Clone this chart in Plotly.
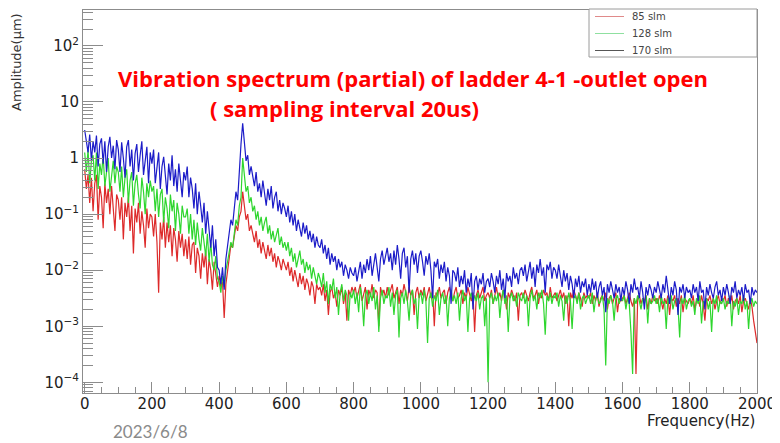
import numpy as np
import plotly.graph_objects as go

# Frequency bins (Hz), 5 Hz spacing, 0..2000
freq_hz = list(range(0, 2001, 5))

# log10 of amplitude (um), rows of 100 Hz (20 bins)
log_amp_85 = [
    -0.2, -0.55, -0.3, -0.8, -0.35, -0.95, -0.45, -0.3, -1.1, -0.5, -0.7, -1.25, -0.45, -0.8, -0.55, -1.0, -0.5, -0.85, -1.3, -0.65,
    -0.75, -1.1, -0.7, -1.45, -0.8, -1.05, -0.7, -1.3, -0.85, -1.7, -0.9, -1.15, -0.8, -1.35, -0.95, -1.2, -1.6, -0.9, -1.25, -1.0,
    -1.05, -1.4, -1.0, -1.5, -2.4, -1.15, -1.45, -1.05, -1.6, -1.15, -1.5, -1.2, -1.75, -1.25, -1.45, -1.85, -1.3, -1.6, -1.35, -1.75,
    -1.45, -1.8, -1.4, -1.9, -1.55, -1.5, -2.05, -1.6, -1.75, -2.15, -1.7, -1.95, -1.65, -2.25, -1.8, -2.0, -2.35, -1.85, -2.1, -2.3,
    -2.1, -2.3, -2.2, -2.85, -2.25, -2.0, -1.7, -1.55, -1.6, -1.35, -1.2, -1.3, -1.05, -0.95, -0.6, -0.85, -1.1, -1.0, -1.3, -1.2,
    -1.35, -1.5, -1.3, -1.6, -1.45, -1.7, -1.5, -1.65, -1.8, -1.55, -1.75, -1.6, -1.85, -1.7, -1.95, -1.75, -1.85, -2.0, -1.8, -1.9,
    -2.0, -1.85, -2.1, -1.95, -2.2, -2.0, -2.15, -2.3, -2.05, -2.25, -2.1, -2.35, -2.15, -2.25, -2.45, -2.2, -2.3, -2.6, -2.25, -2.35,
    -2.3, -2.45, -2.25, -2.55, -2.35, -2.8, -2.4, -2.3, -2.5, -2.4, -2.65, -2.35, -2.45, -2.3, -2.6, -2.4, -2.9, -2.35, -2.45, -2.3,
    -2.4, -2.3, -2.5, -2.35, -2.25, -2.55, -2.4, -2.3, -2.7, -2.35, -2.45, -2.25, -2.5, -2.35, -2.4, -3.0, -2.3, -2.45, -2.35, -2.5,
    -2.3, -2.45, -2.35, -2.25, -2.5, -2.4, -2.3, -2.6, -2.35, -2.45, -2.25, -2.4, -2.55, -2.3, -2.45, -2.35, -2.8, -2.4, -2.3, -2.5,
    -2.35, -2.45, -2.3, -2.55, -2.4, -2.3, -2.5, -2.35, -3.0, -2.4, -2.45, -2.3, -2.5, -2.4, -2.35, -2.6, -2.4, -2.3, -2.45, -2.55,
    -2.4, -2.3, -2.5, -2.45, -2.35, -2.6, -2.4, -2.5, -2.3, -2.45, -2.55, -2.4, -3.1, -2.45, -2.35, -2.5, -2.4, -2.3, -2.55, -2.45,
    -2.4, -2.5, -2.35, -2.6, -2.45, -2.3, -2.5, -2.4, -2.55, -2.35, -2.45, -2.7, -2.4, -2.5, -2.35, -2.45, -2.55, -2.4, -2.9, -2.45,
    -2.4, -2.5, -2.35, -2.45, -2.55, -2.4, -2.3, -2.5, -2.45, -2.35, -2.6, -2.4, -2.5, -2.35, -2.45, -2.4, -2.55, -2.3, -2.5, -2.45,
    -2.4, -2.55, -2.45, -2.35, -2.5, -2.4, -2.6, -2.45, -3.0, -2.4, -2.5, -2.35, -2.45, -2.55, -2.4, -2.5, -2.65, -2.4, -2.5, -2.45,
    -2.5, -2.4, -2.6, -2.45, -2.55, -2.4, -2.65, -2.5, -2.45, -2.55, -2.4, -2.7, -2.5, -2.45, -2.6, -2.5, -2.4, -2.75, -2.5, -2.55,
    -2.5, -2.45, -2.6, -2.5, -2.4, -2.55, -2.65, -2.5, -3.85, -2.5, -2.45, -2.6, -2.5, -2.55, -2.45, -2.7, -2.5, -2.6, -2.45, -2.55,
    -2.5, -2.6, -2.45, -2.55, -2.7, -2.5, -2.6, -2.45, -2.8, -2.5, -2.55, -2.45, -2.65, -2.5, -2.6, -2.45, -2.75, -2.5, -2.55, -2.6,
    -2.5, -2.6, -2.45, -2.7, -2.55, -2.5, -2.65, -2.45, -2.6, -2.9, -2.5, -2.55, -2.45, -2.6, -2.5, -2.7, -2.55, -2.45, -2.6, -2.5,
    -2.55, -2.45, -2.65, -2.5, -2.6, -2.45, -2.7, -2.55, -2.5, -2.6, -2.45, -2.75, -2.55, -2.5, -2.6, -2.7, -2.5, -2.65, -2.9, -3.1,
    -3.3,
]

log_amp_128 = [
    0.1, -0.25, 0.15, -0.45, -0.05, 0.05, -0.4, 0.1, -0.55, -0.1, -0.3, 0.05, -0.5, -0.2, 0.0, -0.6, -0.25, -0.05, -0.45, -0.15,
    -0.25, -0.6, -0.15, -0.7, -0.35, -0.2, -0.8, -0.4, -0.25, -0.85, -0.45, -0.3, -0.65, -0.9, -0.35, -0.6, -1.0, -0.45, -0.7, -0.4,
    -0.6, -0.5, -0.95, -0.55, -1.05, -0.65, -0.55, -1.15, -0.7, -0.9, -1.25, -0.65, -0.95, -0.75, -1.3, -0.8, -1.0, -1.35, -0.85, -1.05,
    -1.05, -0.9, -1.35, -1.0, -1.45, -1.1, -1.55, -1.15, -1.45, -1.65, -1.25, -1.55, -1.75, -1.35, -1.85, -1.5, -1.9, -2.0, -1.75, -2.15,
    -2.2, -2.4, -2.1, -2.3, -2.0, -1.85, -1.7, -1.5, -1.6, -1.3, -1.1, -1.2, -0.85, -0.7, 0.0, -0.3, -0.6, -0.5, -0.8, -0.7,
    -0.95, -0.85, -1.1, -0.95, -1.2, -1.05, -1.3, -1.15, -1.05, -1.35, -1.2, -1.45, -1.3, -1.5, -1.35, -1.25, -1.55, -1.4, -1.6, -1.5,
    -1.65, -1.5, -1.75, -1.6, -1.85, -1.7, -1.95, -1.8, -1.65, -1.9, -1.8, -2.05, -1.85, -2.0, -1.9, -2.15, -1.95, -2.1, -2.25, -2.05,
    -2.15, -2.3, -2.05, -2.4, -2.2, -2.6, -2.25, -2.35, -2.15, -2.5, -2.3, -2.8, -2.4, -2.25, -2.55, -2.35, -2.45, -2.9, -2.4, -2.5,
    -2.35, -2.6, -2.4, -2.75, -2.3, -2.5, -3.0, -2.45, -2.35, -2.6, -2.4, -2.55, -2.3, -2.7, -2.45, -3.1, -2.5, -2.35, -2.6, -2.45,
    -2.5, -2.3, -2.65, -2.4, -2.8, -2.45, -2.35, -3.2, -2.5, -2.4, -2.6, -2.35, -2.55, -2.9, -2.45, -2.35, -2.6, -2.5, -3.05, -2.45,
    -2.4, -2.6, -2.35, -2.55, -3.3, -2.5, -2.4, -2.65, -2.45, -2.55, -2.35, -2.8, -2.5, -2.4, -2.6, -2.45, -3.0, -2.5, -2.35, -2.55,
    -2.45, -2.6, -2.4, -2.9, -2.5, -2.35, -2.55, -2.45, -3.1, -2.5, -2.4, -2.6, -2.45, -2.55, -2.4, -2.7, -2.5, -2.45, -3.0, -2.5,
    -4.0, -2.5, -2.4, -2.6, -2.45, -2.55, -2.4, -2.85, -2.5, -2.35, -2.6, -2.45, -3.1, -2.5, -2.4, -2.55, -2.45, -2.65, -2.4, -2.5,
    -2.55, -2.4, -2.6, -2.45, -3.0, -2.5, -2.35, -2.55, -2.45, -2.7, -2.4, -2.5, -2.35, -2.6, -3.15, -2.45, -2.55, -2.4, -2.6, -2.45,
    -2.5, -2.4, -2.65, -2.45, -2.55, -2.9, -2.45, -2.6, -2.4, -2.55, -3.05, -2.5, -2.45, -2.6, -2.4, -2.7, -2.5, -2.45, -2.6, -2.5,
    -2.45, -2.6, -2.4, -2.75, -2.5, -2.45, -2.6, -2.55, -2.45, -2.7, -3.7, -2.5, -2.6, -2.45, -2.55, -2.9, -2.5, -2.45, -2.6, -2.5,
    -2.55, -2.45, -2.7, -2.5, -2.6, -3.1, -3.85, -2.5, -2.6, -2.45, -2.55, -2.7, -2.5, -2.6, -2.45, -2.95, -2.5, -2.6, -2.55, -2.45,
    -2.6, -2.5, -2.75, -2.45, -2.6, -2.55, -3.05, -2.5, -2.6, -2.45, -2.7, -2.55, -2.5, -2.65, -3.2, -2.5, -2.6, -2.45, -2.7, -2.55,
    -2.5, -2.65, -2.55, -2.8, -2.5, -2.6, -2.45, -2.95, -2.55, -2.6, -2.5, -2.7, -2.55, -3.1, -2.5, -2.6, -2.45, -2.75, -2.55, -2.6,
    -2.5, -2.7, -2.55, -2.6, -2.45, -3.0, -2.55, -2.65, -2.5, -2.8, -2.55, -2.6, -2.45, -2.7, -2.55, -3.05, -2.6, -2.5, -2.65, -2.55,
    -2.6,
]

log_amp_170 = [
    0.5, 0.3, 0.1, 0.42, -0.05, 0.3, 0.1, 0.4, -0.15, 0.25, 0.35, -0.1, 0.3, -0.25, 0.2, 0.38, 0.0, 0.22, -0.2, 0.32,
    0.15, -0.25, 0.28, 0.0, -0.35, 0.2, 0.32, -0.15, 0.15, -0.4, 0.08, 0.25, -0.25, 0.05, 0.3, -0.3, -0.05, 0.2, -0.45, 0.1,
    -0.1, 0.15, -0.45, -0.1, 0.1, -0.55, -0.15, 0.02, -0.35, -0.65, -0.1, -0.4, 0.05, -0.5, -0.2, -0.6, -0.1, -0.35, -0.7, -0.25,
    -0.4, -0.15, -0.7, -0.35, -0.55, -0.9, -0.45, -1.0, -0.6, -0.85, -1.15, -0.8, -1.35, -0.95, -1.25, -1.6, -1.2, -1.75, -1.45, -1.95,
    -2.0, -2.25, -1.95, -2.35, -1.8, -1.55, -1.35, -1.1, -1.2, -0.85, -0.6, -0.75, -0.2, 0.25, 0.62, 0.3, -0.05, 0.05, -0.3, -0.15,
    -0.35, -0.5, -0.25, -0.6, -0.45, -0.7, -0.4, -0.65, -0.85, -0.55, -0.75, -0.5, -0.9, -0.7, -0.6, -0.95, -0.75, -1.0, -0.8, -0.9,
    -1.05, -0.85, -1.15, -0.95, -1.2, -1.0, -1.3, -1.1, -1.25, -1.4, -1.15, -1.35, -1.2, -1.45, -1.3, -1.5, -1.35, -1.6, -1.4, -1.55,
    -1.6, -1.45, -1.7, -1.55, -1.8, -1.6, -1.9, -1.7, -1.85, -1.75, -2.0, -1.8, -1.95, -1.85, -2.1, -1.9, -2.0, -2.15, -1.95, -2.05,
    -2.1, -1.95, -2.2, -2.0, -1.85, -2.15, -1.9, -2.05, -1.8, -2.0, -1.75, -2.1, -1.85, -1.7, -1.95, -2.2, -1.8, -1.65, -1.9, -1.75,
    -1.6, -1.85, -1.7, -2.0, -1.65, -1.9, -1.55, -1.8, -2.15, -1.7, -1.6, -1.95, -1.75, -2.4, -1.8, -1.65, -1.9, -1.7, -2.05, -1.75,
    -1.65, -1.85, -2.1, -1.75, -1.9, -1.7, -2.0, -2.5, -1.85, -1.95, -1.8, -2.15, -1.9, -2.05, -1.85, -2.2, -1.95, -2.1, -2.6, -2.0,
    -2.05, -2.2, -1.95, -2.3, -2.1, -2.25, -2.0, -2.4, -2.15, -2.3, -2.05, -2.7, -2.2, -2.1, -2.35, -2.15, -2.25, -2.05, -2.4, -2.2,
    -2.15, -2.3, -2.05, -2.2, -2.4, -2.1, -2.25, -2.0, -2.35, -2.15, -2.5, -2.05, -2.2, -2.1, -2.3, -1.95, -2.15, -2.05, -2.25, -2.0,
    -1.95, -2.1, -1.9, -2.2, -2.0, -1.85, -2.15, -1.95, -2.3, -1.9, -2.05, -1.8, -2.1, -1.95, -2.4, -1.9, -2.0, -1.85, -2.15, -1.95,
    -2.0, -2.15, -1.9, -2.1, -2.3, -2.0, -2.2, -2.05, -2.35, -2.1, -2.25, -2.5, -2.15, -2.3, -2.1, -2.4, -2.2, -2.3, -2.15, -2.45,
    -2.25, -2.4, -2.15, -2.35, -2.2, -2.5, -2.3, -2.2, -2.45, -2.3, -2.75, -2.25, -2.4, -2.2, -2.35, -2.5, -2.25, -2.4, -2.3, -2.55,
    -2.3, -2.45, -2.2, -2.35, -2.6, -2.25, -2.4, -2.15, -2.35, -2.3, -2.5, -2.2, -2.4, -2.7, -2.3, -2.45, -2.25, -2.35, -2.5, -2.3,
    -2.4, -2.2, -2.35, -2.5, -2.25, -2.4, -2.1, -2.35, -2.6, -2.3, -2.45, -2.2, -2.35, -2.8, -2.3, -2.4, -2.25, -2.5, -2.3, -2.4,
    -2.35, -2.5, -2.25, -2.4, -2.3, -2.55, -2.2, -2.4, -2.35, -2.7, -2.3, -2.45, -2.25, -2.4, -2.5, -2.3, -2.2, -2.45, -2.35, -2.55,
    -2.3, -2.45, -2.25, -2.4, -2.6, -2.3, -2.4, -2.2, -2.5, -2.35, -2.45, -2.3, -2.55, -2.25, -2.4, -2.35, -2.6, -2.3, -2.45, -2.35,
    -2.4,
]

series_names = ["85 slm", "128 slm", "170 slm"]
series_colors = ["#dd2a2a", "#2ed62e", "#1c1cc8"]
legend_line_colors = ["#e08a8a", "#8fe0a0", "#555555"]
series_logs = [log_amp_85, log_amp_128, log_amp_170]
for logs in series_logs:
    assert len(logs) == len(freq_hz), len(logs)

# tick labels
y_tickvals = [1e-4, 1e-3, 1e-2, 1e-1, 1, 10, 100]
y_ticktext = ["10<sup>−4</sup>", "10<sup>−3</sup>", "10<sup>−2</sup>",
              "10<sup>−1</sup>", "1", "10", "10<sup>2</sup>"]
x_tickvals = list(range(0, 2001, 200))

# The page puts the figure 8 px from the window's top-left corner.
PAGE_OFFSET = 8
FIG_W, FIG_H = 780 - PAGE_OFFSET, 443 - PAGE_OFFSET
# plot-area edges in window pixels
L, R, T, B = 83, 757, 10, 393


def px(x):
    return (x - L) / (R - L)


def py(y):
    return (B - y) / (B - T)


fig = go.Figure()
for name, color, logs in zip(series_names, series_colors, series_logs):
    fig.add_trace(go.Scatter(
        x=freq_hz, y=10 ** np.array(logs), mode="lines", name=name,
        line=dict(color=color, width=1.2), showlegend=False,
    ))

minor_y = [k * 10.0 ** d for d in range(-5, 3) for k in range(2, 10)]

axis_color = "#8c8c8c"
fig.update_layout(
    width=FIG_W, height=FIG_H,
    margin=dict(l=L - PAGE_OFFSET, r=780 - R, t=T - PAGE_OFFSET, b=443 - B,
                autoexpand=False),
    paper_bgcolor="white", plot_bgcolor="white",
    font=dict(family="DejaVu Sans", color="#222"),
    showlegend=False,
    xaxis=dict(
        range=[-5, 2000], showgrid=False, zeroline=False, automargin=False,
        showline=True, linecolor=axis_color, linewidth=1, mirror=True,
        ticks="inside", ticklen=11, tickcolor=axis_color,
        tickmode="array", tickvals=x_tickvals, ticklabelstandoff=-3,
        tickfont=dict(family="DejaVu Sans", size=15, color="#222"),
        minor=dict(ticks="inside", ticklen=6, tickcolor=axis_color,
                   dtick=50, tick0=0, showgrid=False),
    ),
    yaxis=dict(
        type="log", range=[-4.19, 2.64], showgrid=False, zeroline=False,
        automargin=False,
        showline=True, linecolor=axis_color, linewidth=1, mirror=True,
        ticks="inside", ticklen=20, tickcolor=axis_color,
        tickmode="array", tickvals=y_tickvals, ticktext=y_ticktext,
        tickfont=dict(family="DejaVu Sans", size=15, color="#222"),
        minor=dict(ticks="inside", ticklen=10, tickcolor=axis_color,
                   tickmode="array", tickvals=minor_y, showgrid=False),
    ),
)

# legend box (ROOT style)
fig.add_shape(type="rect", xref="paper", yref="paper",
              x0=px(589), x1=px(757), y0=py(57), y1=py(9),
              line=dict(color="#9a9a9a", width=1), fillcolor="white", layer="above")
for i, (name, color) in enumerate(zip(series_names, legend_line_colors)):
    yy = [16.5, 33.5, 50.5][i]
    fig.add_shape(type="line", xref="paper", yref="paper",
                  x0=px(595), x1=px(624), y0=py(yy), y1=py(yy),
                  line=dict(color=color, width=1), layer="above")
    fig.add_annotation(text=name, xref="paper", yref="paper",
                       x=px(630), y=py(yy), xanchor="left", yanchor="middle",
                       showarrow=False,
                       font=dict(family="DejaVu Sans", size=10, color="#444"))

fig.add_annotation(
    text="Amplitude(μm)", textangle=-90, xref="paper", yref="paper",
    x=px(16), y=py(62), xanchor="center", yanchor="middle", showarrow=False,
    font=dict(family="DejaVu Sans", size=13, color="#333"),
)
fig.add_annotation(
    text="Frequency(Hz)", xref="paper", yref="paper",
    x=1.0, y=py(421), xanchor="right", yanchor="middle", showarrow=False,
    font=dict(family="DejaVu Sans", size=15, color="#222"),
)
fig.add_annotation(
    text="<b>Vibration spectrum (partial) of ladder 4-1 -outlet open</b>",
    xref="paper", yref="paper", x=px(413), y=py(78),
    xanchor="center", yanchor="middle", showarrow=False,
    font=dict(family="Open Sans", size=22, color="#ff0000"),
)
fig.add_annotation(
    text="<b>( sampling interval 20us)</b>",
    xref="paper", yref="paper", x=px(344), y=py(108),
    xanchor="center", yanchor="middle", showarrow=False,
    font=dict(family="Open Sans", size=22, color="#ff0000"),
)
fig.add_annotation(
    text="2023/6/8", xref="paper", yref="paper",
    x=px(111), y=py(431), xanchor="left", yanchor="middle",
    showarrow=False, font=dict(family="Lato", size=17, color="#8a8a8a"),
)

fig.write_html("out.html")
